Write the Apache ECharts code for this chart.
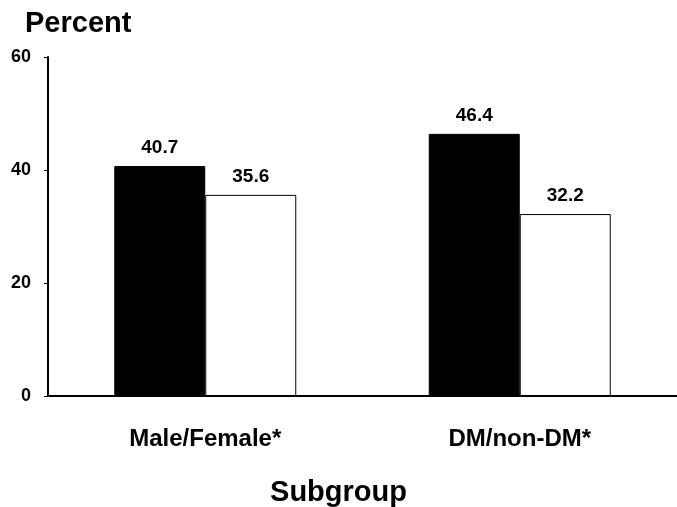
<!DOCTYPE html>
<html>
<head>
<meta charset="utf-8">
<script src="https://cdn.jsdelivr.net/npm/echarts@6/dist/echarts.min.js"></script>
<style>
  html, body { margin: 0; padding: 0; background: #fff; }
  #chart { width: 677px; height: 507px; }
</style>
</head>
<body>
<div id="chart"></div>
<script>
const categories = ['Male/Female*', 'DM/non-DM*'];
const firstValues = [40.7, 46.4];
const secondValues = [35.6, 32.2];

const font = 'Liberation Sans, Arial, sans-serif';
const chart = echarts.init(document.getElementById('chart'));

const labelStyle = {
  show: true,
  position: 'top',
  distance: 9,
  color: '#000',
  fontFamily: font,
  fontWeight: 'bold',
  fontSize: 19,
  formatter: p => p.value.toFixed(1)
};

chart.setOption({
  animation: false,
  textStyle: { fontFamily: font },
  graphic: [
    { type: 'text', left: 25, top: 9, style: { text: 'Percent', font: 'bold 29px ' + font, fill: '#000' } },
    { type: 'text', left: 'center', top: 478, style: { text: 'Subgroup', font: 'bold 29px ' + font, fill: '#000' } }
  ],
  grid: { left: 48, right: -6, top: 57, bottom: 111, containLabel: false },
  xAxis: {
    type: 'category',
    data: categories,
    axisLine: { lineStyle: { color: '#000', width: 2 } },
    axisTick: { show: false },
    axisLabel: { color: '#000', fontWeight: 'bold', fontSize: 24, margin: 31 }
  },
  yAxis: {
    type: 'value',
    min: 0,
    max: 60,
    interval: 20,
    splitLine: { show: false },
    axisLine: { show: true, lineStyle: { color: '#000', width: 2 } },
    axisTick: { show: true, length: 4, lineStyle: { color: '#000', width: 1 } },
    axisLabel: { color: '#000', fontWeight: 'bold', fontSize: 18, margin: 17 }
  },
  series: [
    {
      type: 'bar',
      data: firstValues,
      barWidth: 91,
      barGap: '0%',
      itemStyle: { color: '#000', borderColor: '#000', borderWidth: 1 },
      label: labelStyle
    },
    {
      type: 'bar',
      data: secondValues,
      barWidth: 91,
      itemStyle: { color: '#fff', borderColor: '#000', borderWidth: 1 },
      label: labelStyle
    }
  ]
});
</script>
</body>
</html>
